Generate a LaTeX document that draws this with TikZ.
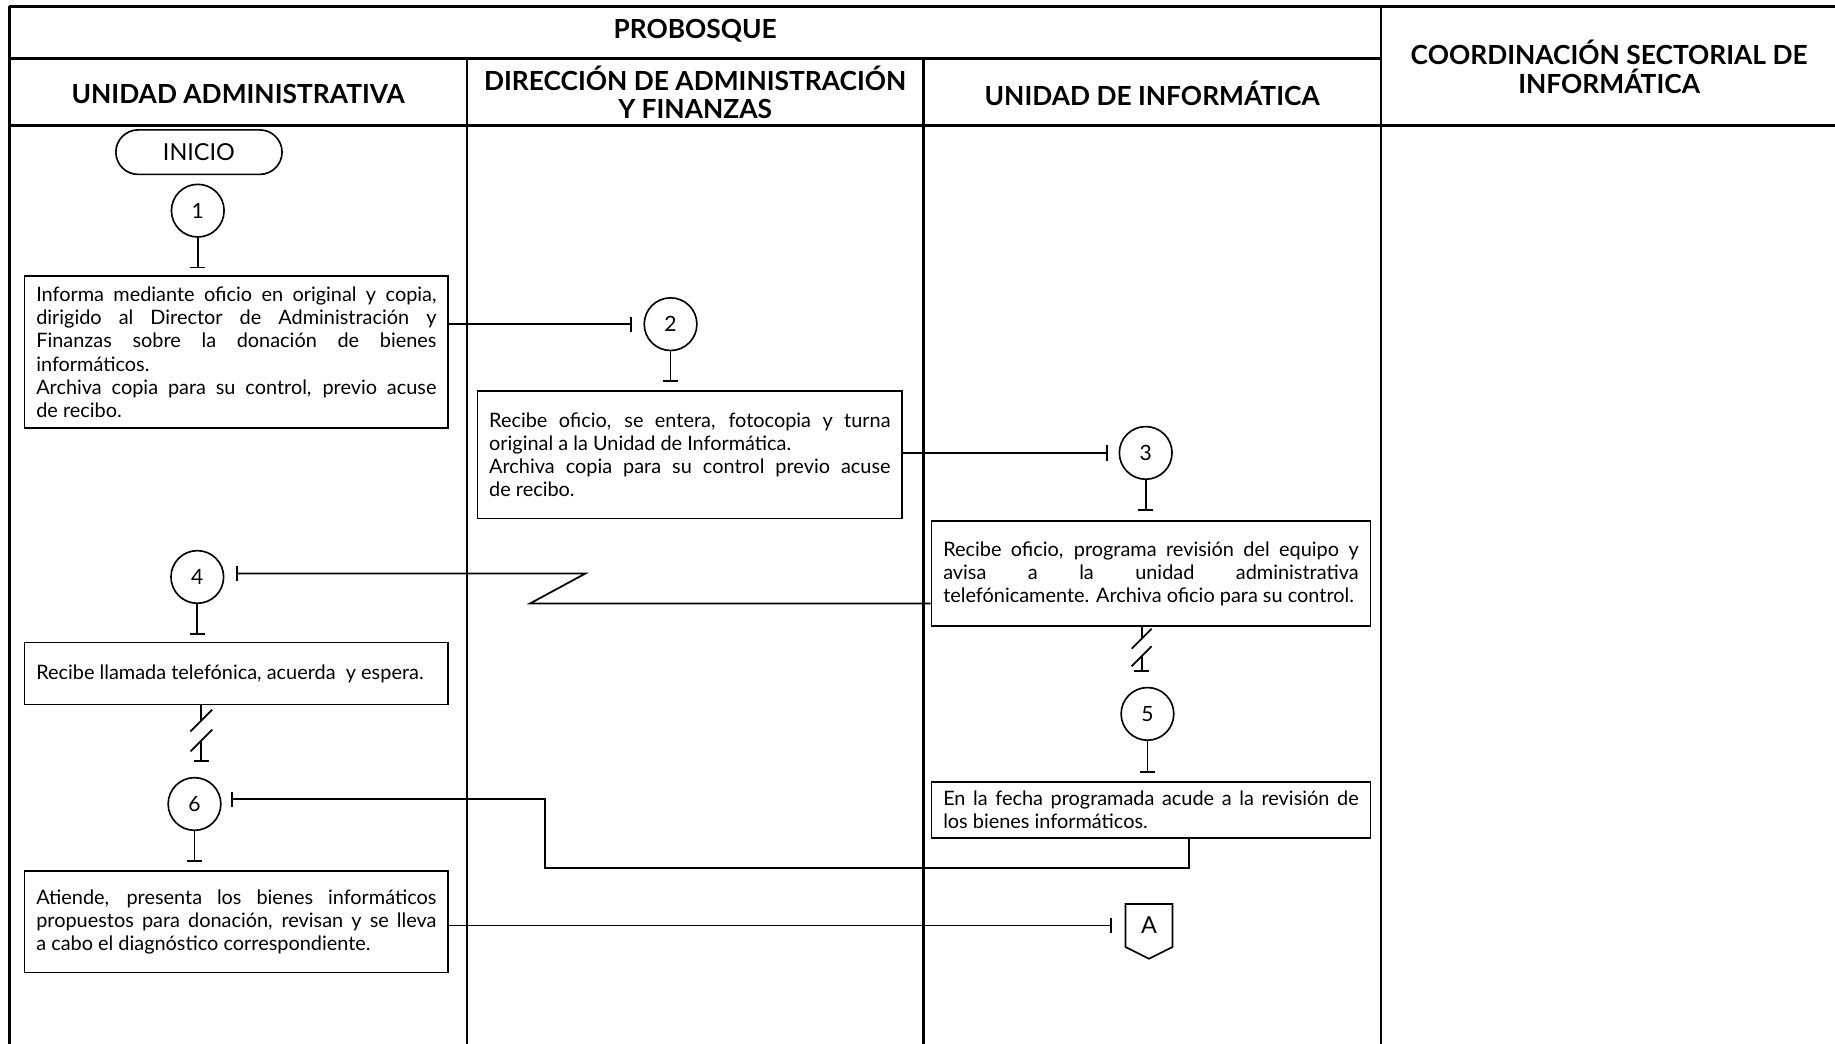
\documentclass[tikz,border=0pt]{standalone}
\usepackage{fontspec}
\setmainfont{Lato}
\usetikzlibrary{arrows.meta,calc,shapes.misc}
\setlength\parindent{0pt}
\newcommand\bodyf{\fontsize{17}{19.7}\selectfont\tolerance=10000\hyphenpenalty=10000\parindent=0pt}
\begin{document}
\begin{tikzpicture}[x=1pt,y=-1pt,
  frame/.style={line width=2.3pt},
  hdr/.style={font=\bfseries\fontsize{22.5}{24.5}\selectfont, align=center, inner sep=0pt},
  box/.style={draw, line width=1.5pt, text width=#1, align=justify, inner xsep=10pt, inner ysep=0pt, font=\bodyf},
  term/.style={draw, rounded rectangle, line width=1.4pt, minimum width=142pt, minimum height=38pt, inner sep=0pt, font=\fontsize{20}{22}\selectfont},
  circ/.style={draw, circle, minimum size=45pt, inner sep=0pt, line width=1.4pt, font=\fontsize{18}{20}\selectfont},
  conn/.style={line width=1.5pt, -{Bar[width=13pt]}},
  plain/.style={line width=1.5pt}
]
\useasboundingbox (0,0) rectangle (1568,892);
\clip (0,0) rectangle (1568,892);
% frame
\draw[frame] (8,5.5) -- (1580,5.5);
\draw[frame] (8,5.5) -- (8,900);
\draw[frame] (8,50) -- (1180,50);
\draw[frame] (8,107) -- (1580,107);
\draw[frame] (399,50) -- (399,900);
\draw[frame] (789,50) -- (789,900);
\draw[frame] (1180,5.5) -- (1180,900);
% headers
\node[hdr] (hp) at (594,26.5) {PROBOSQUE};
\node[hdr] (h1) at (203.5,80) {UNIDAD ADMINISTRATIVA};
\node[hdr] (h2) at (594,79) {DIRECCIÓN DE ADMINISTRACIÓN\\Y FINANZAS};
\node[hdr] (h3) at (984.5,79.5) {UNIDAD DE INFORMÁTICA};
\node[hdr] (h4) at (1375,57) {COORDINACIÓN SECTORIAL DE\\INFORMÁTICA};
% start
\node[term] (ini) at (170,130) {INICIO};
% circles
\node[circ] (c1) at (169,180) {1};
\node[circ] (c2) at (573,277) {2};
\node[circ] (c3) at (979,387) {3};
\node[circ] (c4) at (168.6,493) {4};
\node[circ] (c5) at (980.5,610) {5};
\node[circ] (c6) at (166.2,687) {6};
% boxes
\node[box=342pt, minimum height=130pt] (b1) at (202,301) {Informa mediante oficio en original y copia,\linebreak dirigido al Director de Administración y\linebreak Finanzas sobre la donación de bienes\linebreak informáticos.\par Archiva copia para su control, previo acuse\linebreak de recibo.};
\node[box=343pt, minimum height=109pt] (b2) at (589.5,388.5) {Recibe oficio, se entera, fotocopia y turna\linebreak original a la Unidad de Informática.\par Archiva copia para su control previo acuse\linebreak de recibo.};
\node[box=355pt, minimum height=90pt] (b3) at (983.5,490) {Recibe oficio, programa revisión del equipo y\linebreak avisa a la unidad administrativa\linebreak telefónicamente. Archiva oficio para su control.};
\node[box=342pt, minimum height=53pt] (b4) at (202,575.5) {Recibe llamada telefónica, acuerda\ \ y espera.};
\node[box=355pt, minimum height=48pt] (b5) at (983.5,692) {En la fecha programada acude a la revisión de\linebreak los bienes informáticos.};
\node[box=342pt, minimum height=87pt] (b6) at (202,787.5) {Atiende, presenta los bienes informáticos\linebreak propuestos para donación, revisan y se lleva\linebreak a cabo el diagnóstico correspondiente.};
% off-page connector A
\node[minimum width=39.7pt, minimum height=36.3pt, inner sep=0pt, font=\fontsize{20}{22}\selectfont] (A) at (981.8,790.85) {A};
\draw[line width=1.4pt] (A.south west) -- (A.north west) -- (A.north east) -- (A.south east) -- ($(A.south)+(0,10)$) -- cycle;
% vertical stems
\draw[conn, shorten >=6pt] (c1.south) -- (c1.south |- b1.north);
\draw[conn, shorten >=7pt] (c2.south) -- (c2.south |- b2.north);
\draw[conn, shorten >=8pt] (c3.south) -- (c3.south |- b3.north);
\draw[conn, shorten >=6pt] (c4.south) -- (c4.south |- b4.north);
\draw[conn, shorten >=7pt] (c5.south) -- (c5.south |- b5.north);
\draw[conn, shorten >=7pt] (c6.south) -- (c6.south |- b6.north);
% horizontal connectors
\draw[conn, shorten >=10pt] (b1.east |- c2.west) -- (c2.west);
\draw[conn, shorten >=9pt] (b2.east |- c3.west) -- (c3.west);
\draw[conn, shorten >=11.5pt] (A.west -| b6.east) -- (A.west);
% zigzag (telephone) from b3 to c4
\coordinate (z0) at ($(b3.south west)+(0,-20)$);
\coordinate (z1) at ($(z0)+(-342.5,0)$);
\coordinate (z2) at ($(z1)+(47.5,-25.7)$);
\draw[conn, shorten >=10pt] (z0) -- (z1) -- (z2) -- (z2 -| c4.east);
% b5 to c6
\coordinate (m0) at ($(b5.south)+(32.5,0)$);
\coordinate (m1) at ($(m0)+(0,25)$);
\coordinate (m2) at (466,683);
\draw[conn, shorten >=8pt] (m0) -- (m1) -- (m1 -| m2) -- (m2) -- (m2 -| c6.east);
% break b4 -> c6
\coordinate (k0) at ($(b4.south)+(-30,0)$);
\draw[plain] (k0) -- ($(k0)+(0,13)$);
\draw[plain] ($(k0)+(9.3,3.7)$) -- ($(k0)+(-9.3,22.3)$);
\draw[plain] ($(k0)+(9.3,20.7)$) -- ($(k0)+(-9.3,39.3)$);
\draw[conn] ($(k0)+(0,30)$) -- ($(k0)+(0,48)$);
% break b3 -> c5
\coordinate (k1) at ($(b3.south)+(-8,0)$);
\draw[plain] (k1) -- ($(k1)+(0,10)$);
\draw[plain] ($(k1)+(8.5,1.5)$) -- ($(k1)+(-8.5,18.5)$);
\draw[plain] ($(k1)+(8.5,16.5)$) -- ($(k1)+(-8.5,33.5)$);
\draw[conn] ($(k1)+(0,25)$) -- ($(k1)+(0,38.5)$);
\end{tikzpicture}
\end{document}
